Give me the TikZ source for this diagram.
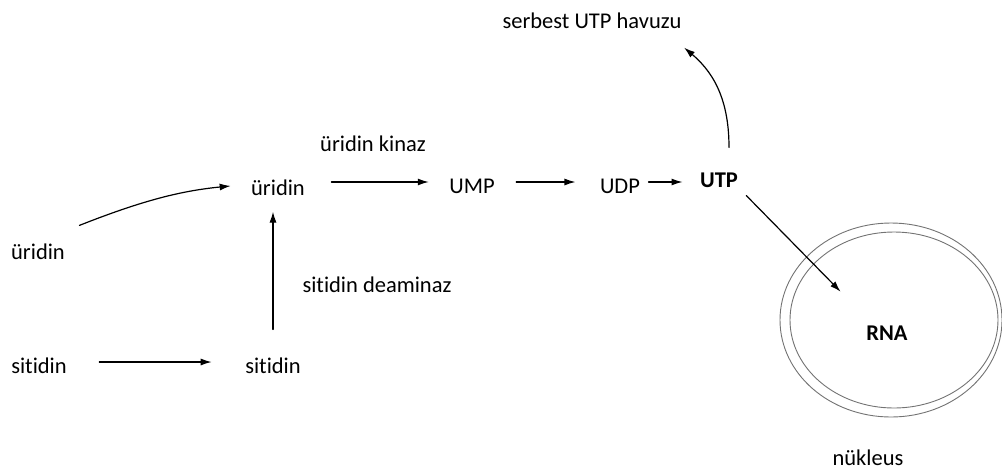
\documentclass[tikz,border=0pt]{standalone}
\usepackage{fontspec}
\setmainfont{Carlito}[Ligatures=NoCommon]
\usepackage{tikz}
\usetikzlibrary{arrows.meta,calc}
\tikzset{>={Latex[length=11pt,width=7pt]}}
\tikzset{mol/.style={inner sep=0pt,text height=22pt,text depth=0pt,anchor=base,font=\fontsize{22.5}{27}\selectfont}}
\tikzset{molbf/.style={mol,font=\fontsize{22.5}{27}\selectfont\bfseries}}

\begin{document}
\begin{tikzpicture}[x=1pt,y=1pt,line cap=round,line join=round,line width=1.2pt]
	\useasboundingbox (0,0) rectangle (1002,-475);
	% molecules
	\node[mol] (uriL) at (38,-259) {üridin};
	\node[mol] (uriT) at (278,-195) {üridin};
	\node[mol] (ump) at (472,-193) {UMP};
	\node[mol] (udp) at (620,-193) {UDP};
	\node[molbf] (utp) at (719,-187) {UTP};
	\node[mol] (sitL) at (39,-373) {sitidin};
	\node[mol] (sitB) at (273,-373) {sitidin};
	\node[mol] (havuz) at (592,-28) {serbest UTP havuzu};
	\node[molbf] (rna) at (887,-340) {RNA};
	% enzymes
	\node[mol] (kinaz) at (373,-151) {üridin kinaz};
	\node[mol] (deam) at (377,-292) {sitidin deaminaz};
	% nucleus
	\coordinate (nuc) at (891,-320);
	\draw[black!55,line width=0.9pt] (nuc) ellipse (111pt and 97pt);
	\draw[black!55,line width=0.9pt] ($(nuc)+(3,0)$) ellipse (104pt and 88pt);
	\node[mol] (nukleus) at (868,-465) {nükleus};
	% arrows
	\draw[->,shorten >=20pt] ([shift={(14,11)}]uriL.north east) to[bend left=8] (uriT.west);
	\draw[->,shorten <=26pt,shorten >=20pt] (uriT.east |- ump) -- (ump.west);
	\draw[->,shorten <=21pt,shorten >=24pt] (ump.east) -- (udp.west);
	\draw[->,shorten <=8pt,shorten >=17pt] (udp.east) -- (udp.east -| utp.west);
	\draw[->] ([shift={(10,17)}]utp.north) to[out=90,in=-40] ([shift={(2,-19)}]havuz.south east);
	\draw[->,shorten <=11pt,shorten >=36pt] (utp.south east) -- (rna.north west);
	\draw[->,shorten <=21pt,shorten >=16pt] (sitB.north) -- (sitB.north |- uriT.south);
	\draw[->,shorten <=32pt,shorten >=33pt] (sitL.east) -- (sitB.west);
\end{tikzpicture}
\end{document}
